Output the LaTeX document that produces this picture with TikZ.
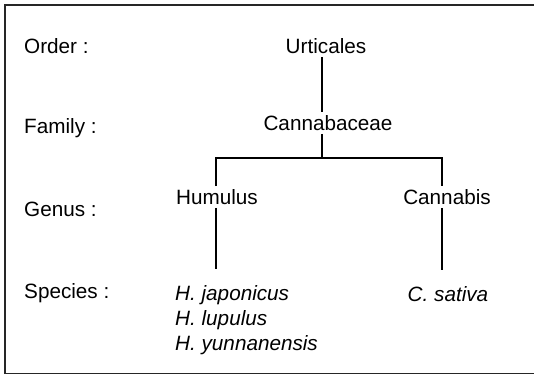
\documentclass[tikz,border=0pt]{standalone}
\usepackage{fontspec}
\setmainfont{Liberation Sans}
\tikzset{
  rank/.style={anchor=west,inner sep=3pt},
  taxon/.style={inner sep=3pt},
  branch/.style={line width=1.1pt}
}

\begin{document}
\begin{tikzpicture}[x=1pt,y=-1pt,every node/.style={font=\fontsize{20.7}{25}\selectfont}]
\useasboundingbox (0,0) rectangle (534,376);
\draw[line width=1.6pt,draw=black!85] (534,5) -- (5,5) -- (5,373.5) -- (534,373.5);
% ranks
\node[rank] (order) at (21,46) {Order :};
\node[rank] (family) at (21,128) {Family :};
\node[rank] (genus) at (21,209) {Genus :};
\node[rank] (species) at (21,293) {Species :};
% taxa
\node[taxon] (urt) at (326,46) {Urticales};
\node[taxon] (canb) at (328,123) {Cannabaceae};
\node[taxon] (hum) at (217,197) {Humulus};
\node[taxon] (cnb) at (447,197) {Cannabis};
\node[taxon,anchor=west,align=left] (hsp) at (172,320) {\itshape H. japonicus\\\itshape H. lupulus\\\itshape H. yunnanensis};
\node[taxon] (csp) at (448,294) {\itshape C. sativa};
\coordinate (jn) at (322,158);
\coordinate (hj) at (216,158);
\coordinate (cj) at (442,158);
\draw[branch] (urt.south -| jn) -- (canb.north -| jn);
\draw[branch] (canb.south -| jn) -- (jn);
\draw[branch] (hum.north -| hj) -- (hj) -- (cj) -- (cnb.north -| cj);
\draw[branch,shorten >=13pt] (hum.south -| hj) -- (hsp.north -| hj);
\draw[branch,shorten >=13pt] (cnb.south -| cj) -- (csp.north -| cj);
\end{tikzpicture}
\end{document}
